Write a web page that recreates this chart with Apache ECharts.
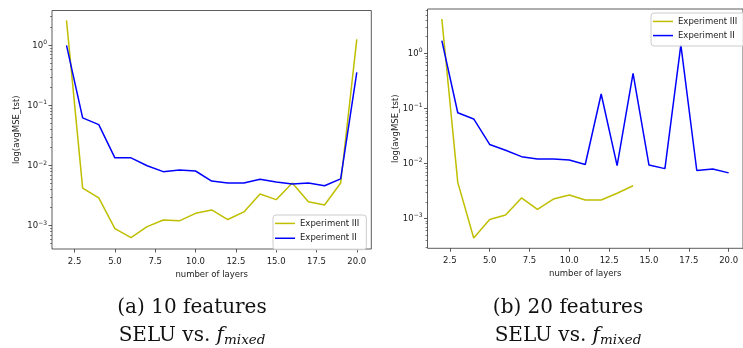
<!DOCTYPE html>
<title>selu vs f_mixed</title>
<style>
body {
    margin: 0;
}
#echart {
    height: 348px;
    width: 743px;
}
</style>
<div id='echart'></div>
<script src='https://cdn.jsdelivr.net/npm/echarts@6/dist/echarts.min.js'></script>
<script>
// number of layers on the x axis
let layers = [2, 3, 4, 5, 6, 7, 8, 9, 10, 11, 12, 13, 14, 15, 16, 17, 18, 19, 20]
let layers_short = [2, 3, 4, 5, 6, 7, 8, 9, 10, 11, 12, 13, 14]
// (a) 10 features
let a_exp3 = [2.6, 0.0042, 0.0029, 0.00089, 0.00063, 0.00096, 0.00124, 0.0012, 0.0016, 0.00182, 0.00126, 0.00169, 0.00335, 0.0027, 0.0051, 0.0025, 0.0022, 0.0051, 1.26]
let a_exp2 = [1.0, 0.062, 0.048, 0.0134, 0.0134, 0.0099, 0.0079, 0.0084, 0.0081, 0.0055, 0.0051, 0.0051, 0.0059, 0.0053, 0.0049, 0.0051, 0.0046, 0.0060, 0.355]
// (b) 20 features
let b_exp3 = [4.2, 0.0045, 0.00044, 0.00095, 0.00115, 0.00235, 0.00145, 0.00224, 0.00265, 0.00215, 0.00215, 0.00285, 0.0039]
let b_exp2 = [1.7, 0.083, 0.064, 0.022, 0.0173, 0.0132, 0.012, 0.012, 0.0115, 0.0095, 0.182, 0.0091, 0.43, 0.0093, 0.0080, 1.42, 0.0074, 0.0079, 0.0067]
let x_ticks = [2.5, 5, 7.5, 10, 12.5, 15, 17.5, 20]
let y_decades = [-3, -2, -1, 0]

let FONT = 'DejaVu Sans'
let SERIF = 'DejaVu Serif'
let YELLOW = '#bfbf00'
let BLUE = '#0000ff'
let echart = echarts.init(document.querySelector('#echart'))

let minor_ticks = []
for (let n = -4; n <= 0; n++)
    for (let k = 2; k <= 9; k++)
        minor_ticks.push(Math.log10(k) + n)

function pairs(xs, ys) {
    return xs.map((x, i) => [x, Math.log10(ys[i])])
}
function sup(v) {
    return '{b|10}{s|' + (v < 0 ? '\u2212' + (-v) : v) + '}'
}
function x_axis(grid) {
    return {
        type: 'value', gridIndex: grid, min: 1.1, max: 20.9,
        name: 'number of layers', nameLocation: 'middle', nameGap: 17, nameMoveOverlap: false,
        nameTextStyle: {fontFamily: FONT, fontSize: 8.5, color: '#222'},
        axisLine: {show: false, onZero: false},
        splitLine: {show: false},
        axisTick: {customValues: x_ticks, length: 3.5, lineStyle: {color: '#333', width: 0.8}},
        axisLabel: {customValues: x_ticks, margin: 4, fontFamily: FONT, fontSize: 8.5, color: '#222',
            formatter: v => v.toFixed(1)},
    }
}
function y_axes(grid, min, max, gap) {
    return [
        {
            type: 'value', gridIndex: grid, min, max, position: 'left',
            name: 'log(avgMSE_tst)', nameLocation: 'middle', nameGap: gap, nameMoveOverlap: false,
            nameTextStyle: {fontFamily: FONT, fontSize: 8.5, color: '#222'},
            axisLine: {show: false, onZero: false},
            splitLine: {show: false},
            axisTick: {customValues: y_decades, length: 3.5, lineStyle: {color: '#333', width: 0.8}},
            axisLabel: {customValues: y_decades, margin: 5, formatter: sup, rich: {
                b: {fontFamily: FONT, fontSize: 8.5, color: '#222', verticalAlign: 'bottom'},
                s: {fontFamily: FONT, fontSize: 6, color: '#222', verticalAlign: 'bottom', padding: [0, 0, 5, 0]},
            }},
        },
        {
            type: 'value', gridIndex: grid, min, max, position: 'left',
            axisLine: {show: false, onZero: false}, splitLine: {show: false}, axisLabel: {show: false},
            axisTick: {customValues: minor_ticks, length: 2, lineStyle: {color: '#333', width: 0.6}},
        },
    ]
}
function line(name, data, color, x, y) {
    return {
        type: 'line', name, data, xAxisIndex: x, yAxisIndex: y,
        symbol: 'none', lineStyle: {color, width: 1.5}, itemStyle: {color},
    }
}
let legend_defaults = {
    orient: 'vertical', selectedMode: false,
    data: ['Experiment III', 'Experiment II'],
    icon: 'rect', itemWidth: 20, itemHeight: 1.5, itemTextGap: 7,
    textStyle: {fontFamily: FONT, fontSize: 8.5, color: '#222'},
    borderColor: '#ccc', borderWidth: 1, borderRadius: 3,
    backgroundColor: 'rgba(255,255,255,0.8)',
}
let caption_rich = {
    r: {fontFamily: SERIF, fontSize: 20, fill: '#111', verticalAlign: 'bottom', lineHeight: 28, padding: [0, 0, 1.5, 0]},
    f: {fontFamily: SERIF, fontSize: 20, fontStyle: 'italic', fill: '#111', verticalAlign: 'bottom', lineHeight: 28, padding: [0, 0, 1.5, 0]},
    s: {fontFamily: SERIF, fontSize: 13.5, fontStyle: 'italic', fill: '#111', verticalAlign: 'bottom', lineHeight: 28, padding: [0, 0, 3, 0]},
}
function caption(x, text) {
    return {type: 'text', x, y: 301, style: {text, rich: caption_rich, align: 'center', verticalAlign: 'top'}}
}

let option = {
    animation: false,
    grid: [
        {left: 52, top: 10.5, right: 371.7, bottom: 99, show: true, borderColor: '#333', borderWidth: 0.8},
        {left: 427.5, top: 9, right: -8.8, bottom: 99.7, show: true, borderColor: '#333', borderWidth: 0.8},
    ],
    xAxis: [x_axis(0), x_axis(1)],
    yAxis: [...y_axes(0, -3.39, 0.58, 27), ...y_axes(1, -3.545, 0.805, 23.5)],
    series: [
        line('Experiment III', pairs(layers, a_exp3), YELLOW, 0, 0),
        line('Experiment II', pairs(layers, a_exp2), BLUE, 0, 0),
        line('Experiment III', pairs(layers_short, b_exp3), YELLOW, 1, 2),
        line('Experiment II', pairs(layers, b_exp2), BLUE, 1, 2),
    ],
    legend: [
        {...legend_defaults, left: 273, top: 215, itemGap: -2, padding: [0, 7, 3, 2]},
        {...legend_defaults, left: 651, top: 13, itemGap: -2.7, padding: [0, 20, 2, 2]},
    ],
    graphic: [
        caption(192, '{r|(a) 10 features}\n{r|SELU vs. }{f|f}{s|mixed}'),
        caption(568, '{r|(b) 20 features}\n{r|SELU vs. }{f|f}{s|mixed}'),
    ],
}
echart.setOption(option)
</script>
